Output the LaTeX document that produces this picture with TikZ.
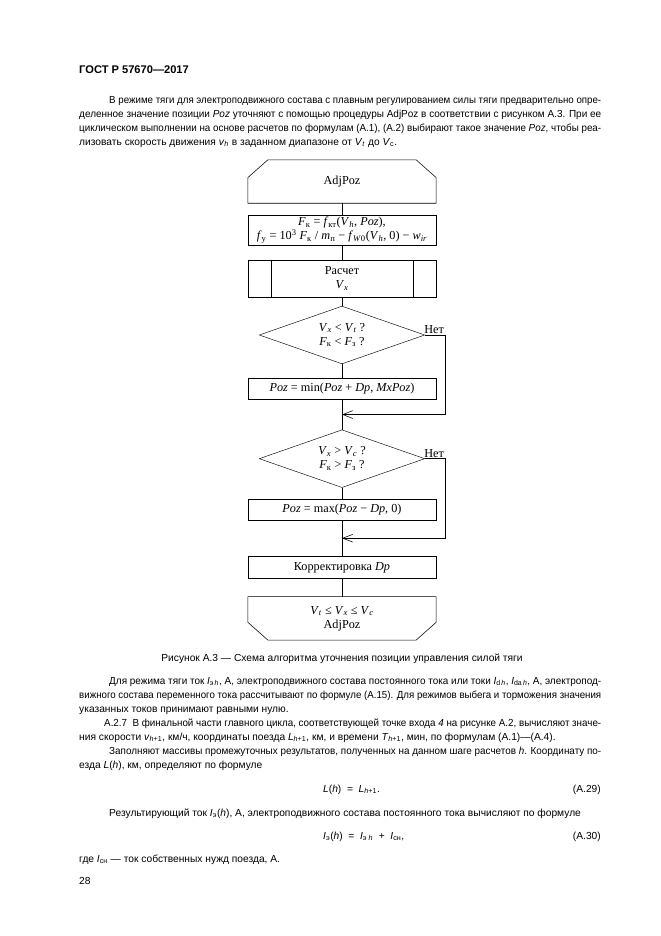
\documentclass[tikz,border=0pt]{standalone}
\usepackage{graphicx}
\usepackage{fontspec}
\setmainfont{Liberation Sans}
\newfontfamily\tmsfont{Liberation Serif}
\usetikzlibrary{positioning,shapes.geometric,arrows.meta,calc}
\newcommand{\ivar}[2]{\textit{#1}\textsubscript{#2}}
\newcommand{\fitline}[2]{\sbox0{#2}\ifdim\wd0>#1\relax\resizebox{#1}{\ht0}{#2}\else\makebox[#1][s]{#2}\fi}
\newcommand{\fullline}[1]{\fitline{469.8pt}{#1}}
\newcommand{\indline}[1]{\fitline{442.8pt}{#1}}

\begin{document}
\begin{tikzpicture}[x=0.9pt,y=-0.9pt,
	every node/.style={inner sep=0pt},
	txt/.style={anchor=base west,
				font=\fontsize{9.2}{11}\selectfont
				},
	box/.style= {draw, minimum width=169pt,
				 align=center,
				 font=\tmsfont\fontsize{11}{12.5}\selectfont
	},
	term/.style={box, draw=none, minimum height=38.7pt},
	cond/.style={draw, diamond, aspect=2.8,
				 minimum width=149pt, minimum height=52pt,
				 align=center,
				 font=\tmsfont\fontsize{11}{12.5}\selectfont
	},
	flow/.style={line width=0.5pt},
	back/.style={flow, -{Straight Barb[length=9pt,width=7pt]}}
]
	\fill[white] (0,0) rectangle (661,936);
	\useasboundingbox (0,0) rectangle (661,936);
	% page text above the figure
	\node[txt, font=\fontsize{10}{12}\selectfont\bfseries] (head) at (79,73) {ГОСТ Р 57670—2017};
	\node[txt] (p1a) at (109,103) {\indline{В режиме тяги для электроподвижного состава с плавным регулированием силы тяги предварительно опре-}};
	\node[txt] (p1b) at (79,117) {\fullline{деленное значение позиции \textit{Poz} уточняют с помощью процедуры AdjPoz в соответствии с рисунком А.3. При ее}};
	\node[txt] (p1c) at (79,131) {\fullline{циклическом выполнении на основе расчетов по формулам (А.1), (А.2) выбирают такое значение \textit{Poz}, чтобы реа-}};
	\node[txt] (p1d) at (79,145) {лизовать скорость движения \ivar{v}{\textit{h}} в заданном диапазоне от \ivar{V}{\textit{t}} до \ivar{V}{с}.};

	% flowchart
	\node (start) [term] at (342,181.5) {AdjPoz};
	\node (eq) [box, minimum height=27pt, below=10.8pt of start] {\ivar{F}{к} = \ivar{f}{кт}(\ivar{V}{\textit{h}}, \textit{Poz}),\\
		\ivar{f}{у} = 10\textsuperscript{3} \ivar{F}{к} / \ivar{m}{п} − \ivar{f}{\textit{W}0}(\ivar{V}{\textit{h}}, 0) − \ivar{w}{\textit{ir}}};
	\node (calc) [box, minimum height=34pt, below=12.6pt of eq] {Расчет\\ \ivar{V}{\textit{x}}};
	\node (cond1) [cond, below=7.2pt of calc] {\ivar{V}{\textit{x}} < \ivar{V}{\textit{t}} ?\\ \ivar{F}{к} < \ivar{F}{з} ?};
	\node (incr) [box, minimum height=18.9pt, below=12.6pt of cond1] {\textit{Poz} = min(\textit{Poz} + \textit{Dp}, \textit{MxPoz})};
	\node (cond2) [cond, below=27pt of incr] {\ivar{V}{\textit{x}} > \ivar{V}{\textit{c}} ?\\ \ivar{F}{к} > \ivar{F}{з} ?};
	\node (decr) [box, minimum height=18.9pt, below=9.9pt of cond2] {\textit{Poz} = max(\textit{Poz} − \textit{Dp}, 0)};
	\node (corr) [box, minimum height=19.8pt, below=32.4pt of decr] {Корректировка \textit{Dp}};
	\node (stop) [term, below=16.2pt of corr] {\ivar{V}{\textit{t}} ≤ \ivar{V}{\textit{x}} ≤ \ivar{V}{\textit{c}}\\ AdjPoz};
	\coordinate (m1) at ($(incr.south)!0.5!(cond2.north)$);
	\coordinate (m2) at ($(decr.south)!0.5!(corr.north)$);

	\draw[flow] ([yshift=-16pt]start.north west) -- ([xshift=18pt]start.north west)
		-- ([xshift=-18pt]start.north east) -- ([yshift=-16pt]start.north east)
		-- (start.south east) -- (start.south west) -- cycle;
	\draw[flow] ([yshift=16pt]stop.south west) -- ([xshift=18pt]stop.south west)
		-- ([xshift=-18pt]stop.south east) -- ([yshift=16pt]stop.south east)
		-- (stop.north east) -- (stop.north west) -- cycle;
	\draw[flow] ([xshift=21pt]calc.north west) -- ([xshift=21pt]calc.south west);
	\draw[flow] ([xshift=-21pt]calc.north east) -- ([xshift=-21pt]calc.south east);

	\draw[flow] (start) -- (eq);
	\draw[flow] (eq) -- (calc);
	\draw[flow] (calc) -- (cond1);
	\draw[flow] (cond1) -- (incr);
	\draw[flow] (incr) -- (cond2);
	\draw[flow] (cond2) -- (decr);
	\draw[flow] (decr) -- (corr);
	\draw[flow] (corr) -- (stop);
	\draw[back] (cond1.east) -- ++(20,0) node[above left=1pt, font=\tmsfont\fontsize{11}{12}\selectfont] {Нет} |- (m1);
	\draw[back] (cond2.east) -- ++(20,0) node[above left=1pt, font=\tmsfont\fontsize{11}{12}\selectfont] {Нет} |- (m2);

	\node[txt, anchor=base] (caption) at (342,661) {Рисунок А.3 — Схема алгоритма уточнения позиции управления силой тяги};

	% page text below the figure
	\node[txt] (p2a) at (109,684) {\indline{Для режима тяги ток \ivar{I}{э\,\textit{h}}, А, электроподвижного состава постоянного тока или токи \ivar{I}{d\,\textit{h}}, \ivar{I}{da\,\textit{h}}, А, электропод-}};
	\node[txt] (p2b) at (79,698) {\fullline{вижного состава переменного тока рассчитывают по формуле (А.15). Для режимов выбега и торможения значения}};
	\node[txt] (p2c) at (79,712) {указанных токов принимают равными нулю.};
	\node[txt] (p3a) at (104,726) {\fitline{447.3pt}{А.2.7\ \ В финальной части главного цикла, соответствующей точке входа \textit{4} на рисунке А.2, вычисляют значе-}};
	\node[txt] (p3b) at (79,740) {ния скорости \ivar{v}{\textit{h}+1}, км/ч, координаты поезда \ivar{L}{\textit{h}+1}, км, и времени \ivar{T}{\textit{h}+1}, мин, по формулам (А.1)—(А.4).};
	\node[txt] (p4a) at (109,754) {\indline{Заполняют массивы промежуточных результатов, полученных на данном шаге расчетов \textit{h}. Координату по-}};
	\node[txt] (p4b) at (79,768) {езда \textit{L}(\textit{h}), км, определяют по формуле};
	\node[txt] (f29) at (323,792) {\textit{L}(\textit{h})\ \ =\ \ \ivar{L}{\textit{h}+1}.};
	\node[txt, anchor=base east] (n29) at (601,792) {(А.29)};
	\node[txt] (p5a) at (109,816) {Результирующий ток \ivar{I}{э}(\textit{h}), А, электроподвижного состава постоянного тока вычисляют по формуле};
	\node[txt] (f30) at (323,839) {\ivar{I}{э}(\textit{h})\ \ =\ \ \ivar{I}{э\ \textit{h}}\ \ +\ \ \ivar{I}{сн},};
	\node[txt, anchor=base east] (n30) at (601,839) {(А.30)};
	\node[txt] (p6a) at (79,862) {где \ivar{I}{сн} — ток собственных нужд поезда, А.};
	\node[txt] (page) at (79,884) {28};
\end{tikzpicture}
\end{document}
